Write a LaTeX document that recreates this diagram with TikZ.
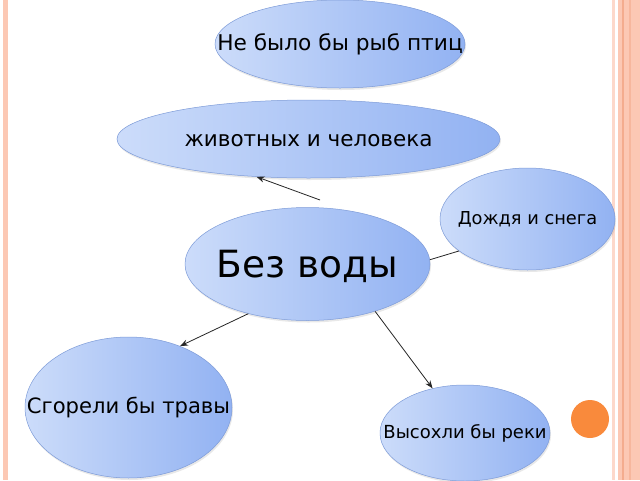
\documentclass[tikz,border=0pt]{standalone}
\usepackage{fontspec}
\setmainfont{DejaVu Sans}
\usetikzlibrary{shapes.geometric,arrows.meta,shadows}
\definecolor{bubL}{HTML}{CCDCFA}
\definecolor{bubR}{HTML}{92B2F2}
\definecolor{bubE}{HTML}{7D9BD8}
\definecolor{brd}{HTML}{FCC8B4}
\definecolor{brdL}{HTML}{FDD8CA}
\definecolor{brdD}{HTML}{F4AC8E}
\definecolor{orng}{HTML}{F98A3C}
\tikzset{
  bub/.style={ellipse, inner sep=0pt, draw=bubE, line width=0.5pt,
    left color=bubL, right color=bubR, text=black,
    drop shadow={opacity=0.18, shadow xshift=1pt, shadow yshift=-2pt}},
  arr/.style={-{Stealth[length=8pt,width=6pt]}, draw=black!85, line width=0.8pt},
  lnk/.style={draw=black!85, line width=0.8pt}
}
\begin{document}
\begin{tikzpicture}[x=1pt,y=-1pt]
\useasboundingbox (0,0) rectangle (640,480);
\fill[white] (0,0) rectangle (640,480);
% borders
\fill[brd] (3,0) rectangle (8,480);
\fill[brdL] (611.5,0) rectangle (614.5,480);
\fill[brd] (618,0) rectangle (640,480);
\fill[brdD] (622,0) rectangle (624,480);
\fill[brdD!60!brd] (629,0) rectangle (631,480);
% orange dot
\fill[orng] (590,419) circle (19);
% bubbles
\node[bub, minimum width=250, minimum height=88,
  label={[font=\fontsize{21.7}{26}\selectfont]center:Не было бы рыб птиц}] (n1) at (340,44) {};
\node[bub, minimum width=383, minimum height=78,
  label={[font=\fontsize{21.5}{26}\selectfont, yshift=-2pt]center:животных и человека}] (n2) at (308.5,139) {};
\node[bub, minimum width=175, minimum height=102,
  label={[font=\fontsize{17.8}{21}\selectfont]center:Дождя и снега}] (n3) at (527.5,219) {};
\node[bub, minimum width=245, minimum height=113,
  label={[font=\fontsize{37.5}{42}\selectfont, yshift=-2pt]center:Без воды}] (n4) at (307.5,264) {};
\node[bub, minimum width=207, minimum height=141,
  label={[font=\fontsize{21.1}{25}\selectfont]center:Сгорели бы травы}] (n5) at (128.5,407.5) {};
\node[bub, minimum width=170, minimum height=96,
  label={[font=\fontsize{18}{21}\selectfont]center:Высохли бы реки}] (n6) at (465,433) {};
% connectors
\coordinate (c1) at (320,200);
\draw[arr] (c1) -- (n2.216);
\draw[lnk] (n4.2) -- (n3.205);
\draw[arr] (n4.220) -- (n5.50);
\draw[arr] (n4.-35) -- (n6.126);
\end{tikzpicture}
\end{document}
